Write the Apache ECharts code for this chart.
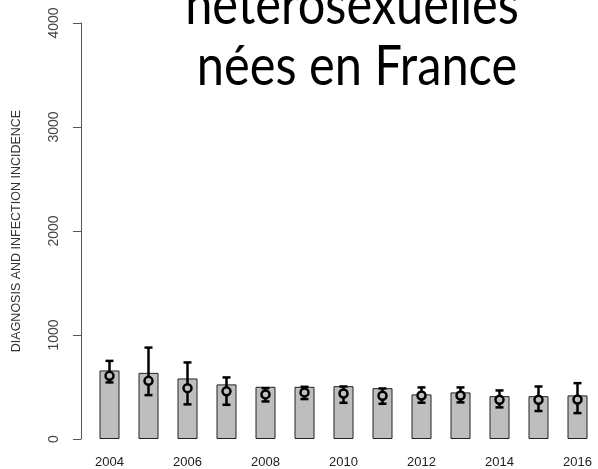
<!DOCTYPE html>
<html>
<head>
<meta charset="utf-8">
<script src="https://cdn.jsdelivr.net/npm/echarts@6/dist/echarts.min.js"></script>
<style>
  html, body { margin: 0; padding: 0; background: #fff; }
  #main { width: 598px; height: 469px; }
</style>
</head>
<body>
<div id="main"></div>
<script>
// data
var years = ['2004', '2005', '2006', '2007', '2008', '2009', '2010', '2011', '2012', '2013', '2014', '2015', '2016'];
var diagnoses = [659, 636, 582, 525, 502, 502, 508, 489, 429, 448, 412, 412, 419];
var incidence = [607, 559, 489, 458, 429, 448, 438, 416, 419, 419, 377, 377, 380];
var incLow = [544, 422, 333, 329, 361, 384, 348, 339, 349, 352, 304, 269, 249];
var incHigh = [751, 879, 736, 592, 489, 502, 505, 486, 496, 496, 467, 505, 537];
var yTicks = [0, 1000, 2000, 3000, 4000];

var errData = [];
for (var i = 0; i < years.length; i++) {
  errData.push([i, incLow[i], incHigh[i], incidence[i]]);
}

var myChart = echarts.init(document.getElementById('main'));

var option = {
  animation: false,
  grid: {
    left: 90,
    right: 1,
    top: 23,
    bottom: 29
  },
  graphic: [{
    type: 'text',
    x: 352,
    y: 34,
    scaleX: 0.87,
    style: {
      text: 'hétérosexuelles',
      font: '56px Lato',
      fill: '#000',
      align: 'center',
      verticalAlign: 'bottom'
    }
  }, {
    type: 'text',
    x: 357,
    y: 95,
    scaleX: 0.87,
    style: {
      text: 'nées en France',
      font: '56px Lato',
      fill: '#000',
      align: 'center',
      verticalAlign: 'bottom'
    }
  }],
  xAxis: {
    type: 'category',
    data: years,
    axisLine: { show: false },
    axisTick: { show: false },
    axisLabel: {
      interval: 1,
      margin: 17,
      fontFamily: 'Liberation Sans',
      fontSize: 13,
      color: '#222'
    }
  },
  yAxis: {
    type: 'value',
    min: 0,
    max: yTicks[yTicks.length - 1],
    interval: 1000,
    offset: 9,
    name: 'DIAGNOSIS AND INFECTION INCIDENCE',
    nameLocation: 'middle',
    nameGap: 58,
    nameTextStyle: {
      fontFamily: 'Liberation Sans',
      fontSize: 12.5,
      color: '#333'
    },
    splitLine: { show: false },
    axisLine: { show: true, lineStyle: { color: '#555', width: 1 } },
    axisTick: { show: true, length: 8, lineStyle: { color: '#555' } },
    axisLabel: {
      rotate: 90,
      margin: 20,
      fontFamily: 'Liberation Sans',
      fontSize: 14,
      color: '#444',
      formatter: function (v) { return String(v); }
    }
  },
  series: [{
    name: 'diagnoses',
    type: 'bar',
    data: diagnoses,
    barWidth: 20,
    itemStyle: {
      color: '#bebebe',
      borderColor: '#222',
      borderWidth: 1
    }
  }, {
    name: 'incidence',
    type: 'custom',
    data: errData,
    z: 5,
    renderItem: function (params, api) {
      var x = api.value(0);
      var lo = api.coord([x, api.value(1)]);
      var hi = api.coord([x, api.value(2)]);
      var pt = api.coord([x, api.value(3)]);
      var cap = 4;
      var st = { stroke: '#000', lineWidth: 2.5, fill: null };
      return {
        type: 'group',
        children: [
          { type: 'line', shape: { x1: hi[0], y1: hi[1], x2: lo[0], y2: lo[1] }, style: st },
          { type: 'line', shape: { x1: hi[0] - cap, y1: hi[1], x2: hi[0] + cap, y2: hi[1] }, style: st },
          { type: 'line', shape: { x1: lo[0] - cap, y1: lo[1], x2: lo[0] + cap, y2: lo[1] }, style: st },
          { type: 'circle', shape: { cx: pt[0], cy: pt[1], r: 4 }, style: { stroke: '#000', lineWidth: 2.5, fill: '#bebebe' } }
        ]
      };
    }
  }]
};
myChart.setOption(option);
</script>
</body>
</html>
